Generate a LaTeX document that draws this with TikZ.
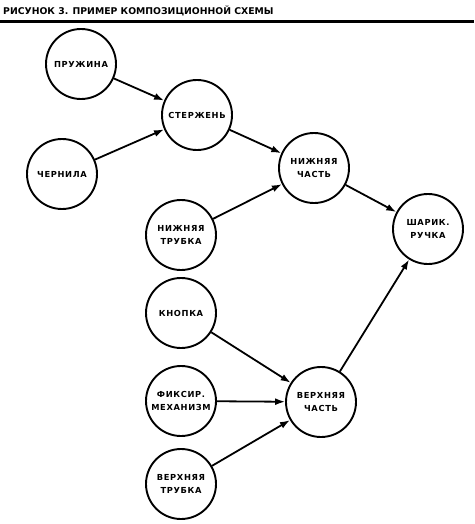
\documentclass[tikz,border=0pt]{standalone}
\usepackage{fontspec}
\setmainfont{DejaVu Sans}
\newfontfamily\lblfont[LetterSpace=8]{DejaVu Sans Bold}
\newfontfamily\ttlfont{DejaVu Sans Bold}
\usetikzlibrary{arrows.meta,positioning,calc}

\begin{document}
\begin{tikzpicture}[x=1pt,y=-1pt,
  part/.style={circle,draw,line width=1.9pt,minimum size=70pt,inner sep=0pt,
    align=center,font=\lblfont\fontsize{8.3}{13}\selectfont},
  link/.style={-{Latex[length=10pt,width=7pt]},line width=1.8pt}]
  \useasboundingbox (0,0) rectangle (474,524);
  % titolo e riga
  \node[anchor=west,inner sep=0pt,font=\ttlfont\fontsize{9.3}{11}\selectfont] (title) at (3,11)
    {РИСУНОК 3. ПРИМЕР КОМПОЗИЦИОННОЙ СХЕМЫ};
  \draw[line width=3pt] (0,21.5)--(474,21.5);
  % componenti
  \node[part] (spring) at (81,64) {ПРУЖИНА};
  \node[part] (rod) at (197,115) {СТЕРЖЕНЬ};
  \node[part] (ink) at (62,174) {ЧЕРНИЛА};
  \node[part] (lowpart) at (314,168) {НИЖНЯЯ\\ЧАСТЬ};
  \node[part] (lowtube) at (181,235) {НИЖНЯЯ\\ТРУБКА};
  \node[part] (pen) at (428,229) {ШАРИК.\\РУЧКА};
  \node[part] (button) at (181,313) {КНОПКА};
  \node[part] (lock) at (181,401) {ФИКСИР.\\МЕХАНИЗМ};
  \node[part] (uppart) at (321,402) {ВЕРХНЯЯ\\ЧАСТЬ};
  \node[part] (uptube) at (181,484) {ВЕРХНЯЯ\\ТРУБКА};
  % collegamenti
  \draw[link] (spring)--(rod);
  \draw[link] (ink)--(rod);
  \draw[link] (rod)--(lowpart);
  \draw[link] (lowtube)--(lowpart);
  \draw[link] (lowpart)--(pen);
  \draw[link] (button)--(uppart);
  \draw[link] (lock)--(uppart);
  \draw[link] (uptube)--(uppart);
  \draw[link] (uppart)--(pen);
\end{tikzpicture}
\end{document}
